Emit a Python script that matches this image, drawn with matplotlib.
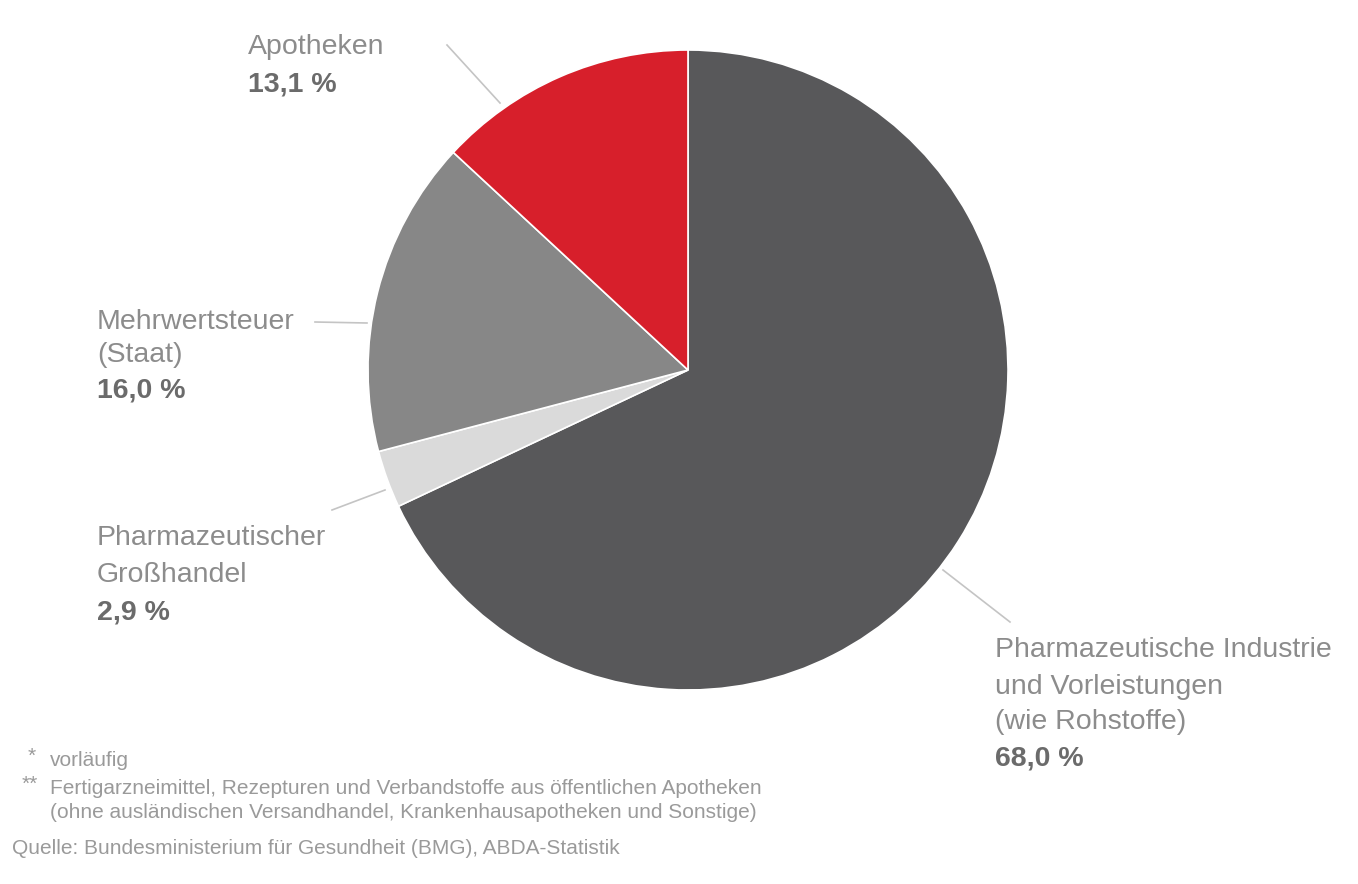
import matplotlib.pyplot as plt

# slices, clockwise from 12 o'clock
labels = ["Pharmazeutische Industrie\nund Vorleistungen\n(wie Rohstoffe)",
          "Pharmazeutischer\nGroßhandel",
          "Mehrwertsteuer\n(Staat)",
          "Apotheken"]
values = [68.0, 2.9, 16.0, 13.1]
colors = ["#58585a", "#dadada", "#878787", "#d71f2b"]

footnotes = ["vorläufig",
             "Fertigarzneimittel, Rezepturen und Verbandstoffe aus öffentlichen Apotheken\n"
             "(ohne ausländischen Versandhandel, Krankenhausapotheken und Sonstige)"]
source = "Quelle: Bundesministerium für Gesundheit (BMG), ABDA-Statistik"

W, H = 1358, 884
plt.rcParams["font.family"] = ["Liberation Sans", "DejaVu Sans"]

fig = plt.figure(figsize=(W / 100, H / 100), dpi=100)
ax = fig.add_axes([0, 0, 1, 1])


def Y(y):
    return H - y


ax.pie(values, colors=colors, startangle=90, counterclock=False,
       center=(688, Y(370)), radius=320,
       wedgeprops=dict(edgecolor="white", linewidth=1.2), frame=True)
ax.set_xlim(0, W)
ax.set_ylim(0, H)
ax.axis("off")

# label placement: (x, y of each line, leader line)
layout = [
    (995, [650, 687, 722, 758], ((943, 570), (1010, 622))),
    (97, [538, 575, 612], ((385, 490), (332, 510))),
    (97, [322, 355, 390], ((367, 323), (315, 322))),
    (248, [47, 85], ((500, 103), (447, 45))),
]

name_color = "#8c8c8c"
value_color = "#6b6b6b"
fs = 20.5

for lab, val, (x, ys, line) in zip(labels, values, layout):
    lines = lab.split("\n")
    for t, y in zip(lines, ys):
        ax.text(x, Y(y), t, fontsize=fs, color=name_color,
                va="center", ha="left")
    pct = f"{val:.1f}".replace(".", ",") + " %"
    ax.text(x, Y(ys[-1]), pct, fontsize=fs, color=value_color,
            fontweight="bold", va="center", ha="left")
    (x1, y1), (x2, y2) = line
    ax.plot([x1, x2], [Y(y1), Y(y2)], color="#c4c4c4", lw=1.2)

fn_color = "#9a9a9a"
fn_fs = 15
ax.text(28, Y(756), "*", fontsize=fn_fs, color=fn_color, va="center")
ax.text(50, Y(760), footnotes[0], fontsize=fn_fs, color=fn_color, va="center")
ax.text(22, Y(784), "**", fontsize=fn_fs, color=fn_color, va="center")
fl = footnotes[1].split("\n")
ax.text(50, Y(788), fl[0], fontsize=fn_fs, color=fn_color, va="center")
ax.text(50, Y(813), fl[1], fontsize=fn_fs, color=fn_color, va="center")
ax.text(12, Y(849), source, fontsize=fn_fs, color=fn_color, va="center")

fig.savefig("out.png", dpi=100)
